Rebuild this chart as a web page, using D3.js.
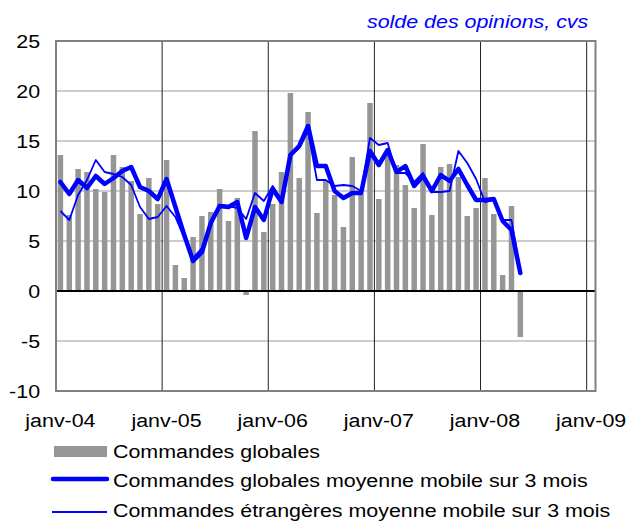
<!DOCTYPE html>
<html>
<head>
<meta charset="utf-8">
<script src="https://cdn.jsdelivr.net/npm/d3@7"></script>
<style>
body { margin: 0; background: #fff; }
text { font-family: "Liberation Sans", Arial, sans-serif; }
</style>
</head>
<body>
<div id="main_div"></div>
<script>
// janv-04 .. mai-08, solde des opinions
var commandes = [13.6, 7.6, 12.2, 11.9, 10.2, 9.9, 13.6, 12.4, 11.0, 7.7, 11.3, 8.7,
    13.1, 2.6, 1.3, 5.4, 7.5, 7.9, 10.2, 7.0, 9.3, -0.4, 16.0, 5.9,
    8.7, 11.9, 19.8, 11.3, 17.9, 7.8, 11.0, 9.6, 6.4, 13.4, 9.7, 18.8,
    9.2, 14.0, 12.6, 10.6, 8.3, 14.7, 7.6, 12.4, 12.7, 11.4, 7.5, 8.3,
    11.3, 7.7, 1.6, 8.5, -4.6];
var globales_mm3 = [10.9, 9.7, 11.1, 10.3, 11.5, 10.7, 11.3, 12.0, 12.4, 10.4, 10.0, 9.2,
    11.2, 8.4, 5.6, 3.0, 3.9, 6.8, 8.5, 8.4, 8.9, 5.3, 8.4, 7.1,
    10.2, 8.9, 13.6, 14.5, 16.5, 12.5, 12.5, 10.0, 9.3, 9.8, 9.8, 14.0,
    12.6, 14.1, 11.9, 12.5, 10.5, 11.5, 10.0, 11.6, 11.0, 12.2, 10.6, 9.1,
    9.1, 9.2, 7.0, 6.1, 1.8];
var etrangeres_mm3 = [8.0, 7.1, 9.6, 11.1, 13.1, 11.9, 11.7, 11.4, 10.6, 8.4, 7.2, 7.4,
    8.5, 7.4, 5.3, 3.3, 4.3, 6.9, 8.6, 8.5, 8.3, 7.2, 9.8, 9.0,
    10.5, 9.1, 13.5, 14.3, 16.0, 11.1, 11.1, 10.5, 10.6, 10.5, 10.0, 15.3,
    14.6, 14.8, 11.8, 11.8, 10.9, 11.8, 9.9, 9.9, 10.0, 14.0, 12.8, 11.2,
    8.9, 9.1, 7.1, 7.1, 2.0];
var years = ["janv-04", "janv-05", "janv-06", "janv-07", "janv-08", "janv-09"];
var y_ticks = [-10, -5, 0, 5, 10, 15, 20, 25];
var legend_labels = ["Commandes globales",
    "Commandes globales moyenne mobile sur 3 mois",
    "Commandes étrangères moyenne mobile sur 3 mois"];

var n_months = years.length * 12 - 11; // janv-04 .. janv-09
var stretch = "scale(1.19,1)";

var x_scale = d3.scaleBand().domain(d3.range(n_months)).range([56, 595.5])
    .paddingInner(0.38).paddingOuter(0.19);
var y_scale = d3.scaleLinear().domain([-10, 25]).range([391, 41]);
var gap = (x_scale.step() - x_scale.bandwidth()) / 2;
function cx(i) { return x_scale(i) + x_scale.bandwidth() / 2; }

var svg = d3.select("#main_div").append("svg").attr("width", 627).attr("height", 521);

// horizontal gridlines
svg.append("g").selectAll("line").data(y_ticks).enter().append("line")
    .attr("x1", 56).attr("x2", 595.5)
    .attr("y1", function(d) { return y_scale(d); })
    .attr("y2", function(d) { return y_scale(d); })
    .attr("stroke", "#999").attr("stroke-width", 1);

// vertical gridlines at each january
var jan_idx = years.map(function(d, k) { return k * 12; });
svg.append("g").selectAll("line").data(jan_idx.slice(1)).enter().append("line")
    .attr("x1", function(d) { return x_scale(d) - gap; })
    .attr("x2", function(d) { return x_scale(d) - gap; })
    .attr("y1", 41).attr("y2", 391)
    .attr("stroke", "#222").attr("stroke-width", 1);

// bars
svg.append("g").selectAll("rect").data(commandes).enter().append("rect")
    .attr("x", function(d, i) { return x_scale(i); })
    .attr("width", x_scale.bandwidth())
    .attr("y", function(d) { return y_scale(Math.max(0, d)); })
    .attr("height", function(d) { return Math.abs(y_scale(d) - y_scale(0)); })
    .attr("fill", "#969696");

// zero line
svg.append("line").attr("x1", 56).attr("x2", 595.5)
    .attr("y1", y_scale(0)).attr("y2", y_scale(0))
    .attr("stroke", "#000").attr("stroke-width", 2.2);

var line = d3.line().x(function(d, i) { return cx(i); }).y(function(d) { return y_scale(d); });
svg.append("path").datum(etrangeres_mm3).attr("d", line)
    .attr("fill", "none").attr("stroke", "#0000ff").attr("stroke-width", 1.8)
    .attr("stroke-linejoin", "round");
svg.append("path").datum(globales_mm3).attr("d", line)
    .attr("fill", "none").attr("stroke", "#0000ff").attr("stroke-width", 4.5)
    .attr("stroke-linejoin", "round").attr("stroke-linecap", "round");

// frame
svg.append("rect").attr("x", 56).attr("y", 41).attr("width", 539.5).attr("height", 350)
    .attr("fill", "none").attr("stroke", "#808080").attr("stroke-width", 2);

// axes
var g_y = svg.append("g").attr("transform", "translate(56,0)")
    .call(d3.axisLeft(y_scale).tickValues(y_ticks).tickSize(0)
        .tickFormat(function(d) { return String(d); }));
g_y.select(".domain").remove();
g_y.selectAll("text").attr("x", -13.4).attr("dy", "0.36em")
    .attr("transform", stretch).attr("font-size", 18).attr("font-family", null).attr("fill", "#000");

var g_x = svg.append("g").attr("transform", "translate(0,391)")
    .call(d3.axisBottom(x_scale).tickValues(jan_idx).tickSize(0)
        .tickFormat(function(d) { return years[d / 12]; }));
g_x.select(".domain").remove();
g_x.selectAll("text").attr("y", 36).attr("dy", 0)
    .attr("transform", stretch).attr("font-size", 18).attr("font-family", null).attr("fill", "#000");

// title
svg.append("g").attr("transform", "translate(367,28)").append("text")
    .attr("transform", stretch).attr("font-size", 18).attr("font-style", "italic")
    .attr("fill", "#0000ff").text("solde des opinions, cvs");

// legend
var leg_y = [458, 487, 517];
var leg = svg.append("g");
leg.append("rect").attr("x", 54).attr("y", 446).attr("width", 53).attr("height", 11).attr("fill", "#969696");
leg.append("line").attr("x1", 53).attr("x2", 107).attr("y1", 479).attr("y2", 479)
    .attr("stroke", "#0000ff").attr("stroke-width", 4.5).attr("stroke-linecap", "round");
leg.append("line").attr("x1", 52).attr("x2", 107).attr("y1", 512).attr("y2", 512)
    .attr("stroke", "#0000ff").attr("stroke-width", 1.8);
leg.selectAll("g.lab").data(legend_labels).enter().append("g").attr("class", "lab")
    .attr("transform", function(d, i) { return "translate(113," + leg_y[i] + ")"; })
    .append("text").attr("transform", stretch).attr("font-size", 18).text(function(d) { return d; });
</script>
</body>
</html>
